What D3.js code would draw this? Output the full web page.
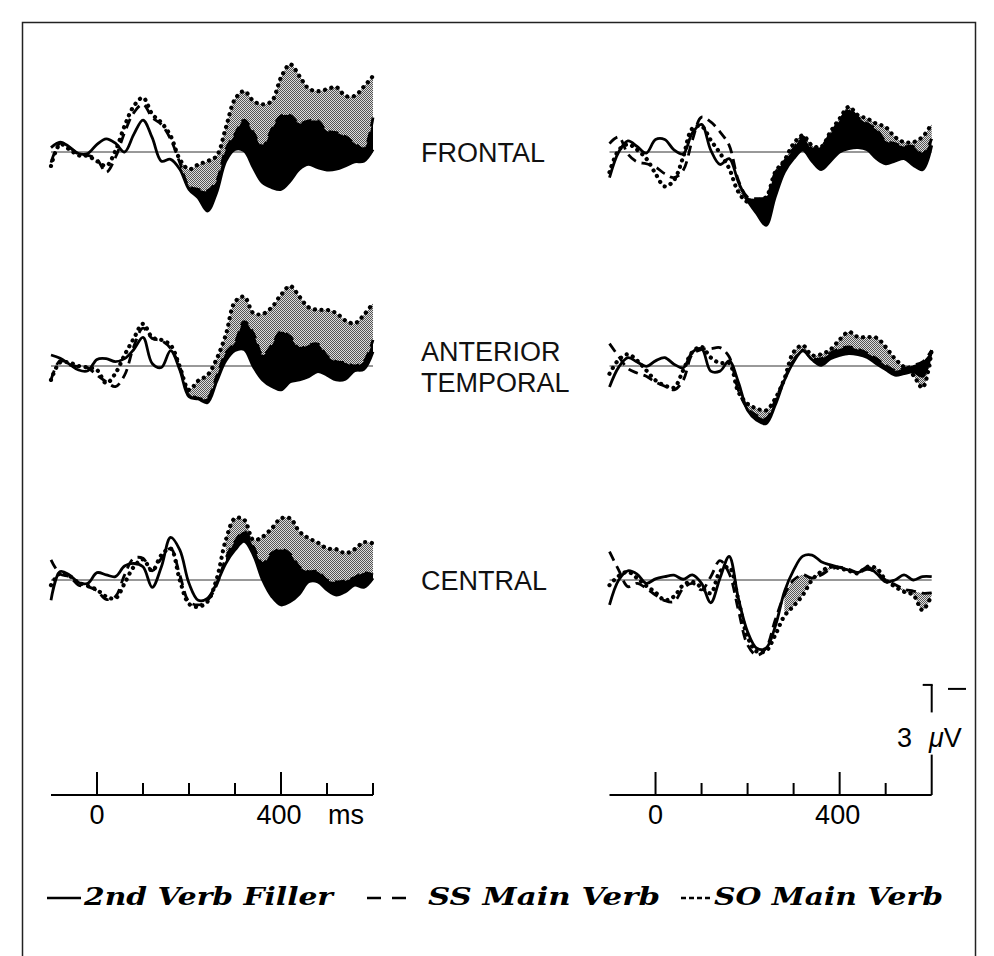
<!DOCTYPE html>
<html>
<head>
<meta charset="utf-8">
<script src="https://cdn.jsdelivr.net/npm/d3@7"></script>
<style>
  body { margin: 0; background: #fff; }
  svg { display: block; }
</style>
</head>
<body>
<svg id="chart" width="994" height="956"></svg>
<script>
// Epoch sampled every 20 ms, -100 .. 600 ms
const times = d3.range(-100, 601, 20);
const regionLabels = [["FRONTAL"], ["ANTERIOR", "TEMPORAL"], ["CENTRAL"]];
const legendLabels = ["2nd Verb Filler", "SS Main Verb", "SO Main Verb"];
const majorTicks = [0, 400];
const minorTicksLeft = [100, 200, 300, 500, 600];
const minorTicksRight = [100, 200, 300, 500];
const calibrationUV = 3;
// shading begins at this latency (ms) in each row
const shadeStart = [180, 180, 280];

// amplitudes in microvolts, negative plotted upward
// left column
const leftFrontalFiller = [-0.12,-0.27,-0.14,0.04,0.04,-0.21,-0.36,-0.24,0,-0.48,-0.87,-0.39,0.25,0.2,0.47,1.02,1.25,1.61,1.11,0.25,-0.07,-0.03,0.43,0.84,0.97,1.02,0.79,0.47,0.34,0.43,0.49,0.47,0.38,0.27,0.25,-0.07];
const leftFrontalSS = [0.29,-0.24,-0.12,0.06,0.09,0.2,0.55,0.15,-0.53,-1.07,-1.3,-0.94,-0.75,-0.35,0.29,0.93,1.02,1.06,0.79,-0.07,-0.48,-0.87,-0.53,-0.15,-0.62,-0.98,-1.0,-0.78,-0.85,-0.85,-0.57,-0.53,-0.42,-0.24,-0.09,-0.94];
const leftFrontalSO = [0.38,-0.21,-0.07,0.09,0.11,0.25,0.38,-0.03,-0.71,-1.25,-1.48,-1.03,-0.8,-0.44,0.2,0.47,0.34,0.25,0.11,-0.66,-1.44,-1.66,-1.39,-1.3,-1.39,-2.03,-2.39,-2.07,-1.73,-1.66,-1.71,-1.77,-1.53,-1.53,-1.78,-2.07];

const leftTemporalFiller = [-0.3,-0.21,-0.05,0.11,0.13,-0.18,-0.2,-0.12,-0.2,-0.45,-0.78,-0.07,0.04,-0.42,0.11,0.84,0.9,1.0,0.43,-0.14,-0.42,-0.45,0.02,0.38,0.56,0.65,0.43,0.38,0.29,0.15,0.25,0.38,0.36,0.13,0.09,-0.39];
const leftTemporalSS = [0.38,-0.15,-0.03,0.02,0.05,0.25,0.43,0.56,0.25,-0.53,-1.03,-0.75,-0.69,-0.48,0.02,0.75,0.88,0.88,0.29,-0.36,-0.64,-1.21,-0.89,-0.3,-0.57,-0.94,-0.8,-0.48,-0.57,-0.6,-0.27,-0.12,-0.09,0,-0.12,-0.71];
const leftTemporalSO = [0.38,-0.1,-0.09,0,0.04,0.11,0.47,0.2,-0.3,-0.75,-1.15,-0.78,-0.71,-0.57,0.02,0.65,0.4,0.25,-0.19,-0.85,-1.75,-1.89,-1.44,-1.42,-1.6,-1.94,-2.18,-1.89,-1.6,-1.53,-1.53,-1.44,-1.24,-1.16,-1.39,-1.71];

const leftCentralFiller = [0.55,-0.23,-0.14,0.07,0.09,-0.2,-0.14,-0.09,-0.38,-0.45,-0.36,0.2,-0.36,-1.16,-0.82,0.09,0.55,0.5,0.09,-0.45,-0.82,-1.05,-0.68,0,0.45,0.68,0.59,0.38,0.05,0.05,0.27,0.41,0.32,0.14,0.2,-0.05];
const leftCentralSS = [-0.55,-0.16,-0.09,0.14,0.18,0.29,0.53,0.45,-0.14,-0.59,-0.59,-0.25,-0.59,-0.86,-0.14,0.59,0.68,0.56,0.14,-0.59,-1.05,-1.32,-0.91,-0.45,-0.73,-0.84,-0.71,-0.36,-0.23,-0.23,0,0.05,0.02,-0.07,-0.2,-0.14];
const leftCentralSO = [0.14,-0.18,-0.11,0.07,0.16,0.27,0.45,0.5,0.09,-0.36,-0.56,-0.25,-0.68,-0.86,0,0.65,0.73,0.59,-0.02,-1.09,-1.68,-1.64,-1.09,-1.18,-1.41,-1.68,-1.68,-1.32,-1.14,-1.02,-0.86,-0.84,-0.73,-0.84,-1.03,-1.0];

// right column
const rightFrontalFiller = [0.7,0,-0.3,-0.15,0.03,-0.34,-0.34,-0.06,0.05,-0.52,-0.75,-0.05,0.34,0.18,0.82,1.32,1.68,2.0,1.23,0.55,0.18,-0.05,0.25,0.48,0.25,0,-0.09,-0.12,-0.06,0.18,0.32,0.25,0.18,0.36,0.48,-0.18];
const rightFrontalSS = [-0.23,-0.41,0.06,0.27,0.32,0.41,0.59,0.7,0.5,-0.32,-0.95,-0.82,-0.55,-0.18,0.77,1.23,1.27,1.23,0.57,0.25,-0.09,-0.41,-0.09,-0.15,-0.5,-0.86,-1.15,-0.94,-0.77,-0.61,-0.3,-0.23,-0.15,-0.15,0.06,-0.36];
const rightFrontalSO = [0.55,-0.05,-0.21,-0.06,0.18,0.59,0.94,0.77,0.14,-0.64,-0.7,-0.32,0.03,0.45,1.09,1.36,1.32,1.23,0.55,0.23,-0.23,-0.45,-0.18,-0.14,-0.55,-0.91,-1.23,-1.0,-0.91,-0.77,-0.68,-0.41,-0.27,-0.27,-0.41,-0.77];

const rightTemporalFiller = [0.57,0.03,-0.23,-0.11,0.01,-0.14,-0.23,-0.05,0.05,-0.38,-0.47,0.14,0.14,-0.14,0.44,1.21,1.48,1.57,1.07,0.39,-0.11,-0.41,-0.17,-0.02,-0.2,-0.29,-0.34,-0.31,-0.23,-0.06,0.1,0.25,0.21,0.16,0.28,-0.43];
const rightTemporalSS = [-0.61,-0.26,0.07,0.19,0.28,0.44,0.55,0.65,0.39,-0.32,-0.45,-0.47,-0.5,-0.25,0.66,1.16,1.35,1.44,0.94,0.35,-0.15,-0.43,-0.2,-0.2,-0.35,-0.47,-0.52,-0.45,-0.35,-0.2,-0.02,0.12,0.07,-0.02,-0.11,-0.43];
const rightTemporalSO = [0.21,-0.17,-0.32,-0.15,0.12,0.39,0.53,0.59,0.12,-0.38,-0.52,-0.23,-0.08,-0.08,0.71,1.03,1.16,1.21,0.89,0.35,-0.38,-0.56,-0.29,-0.32,-0.45,-0.72,-0.93,-0.79,-0.79,-0.77,-0.52,-0.2,0.03,0.25,0.59,-0.43];

const rightCentralFiller = [0.68,0,-0.25,-0.16,0.09,-0.03,-0.09,-0.13,-0.02,-0.14,0.09,0.62,-0.05,-0.64,0.5,1.41,1.86,1.86,1.27,0.32,-0.27,-0.65,-0.68,-0.5,-0.41,-0.34,-0.27,-0.2,-0.35,-0.18,0.05,0,-0.14,0,-0.09,-0.09];
const rightCentralSS = [-0.77,-0.27,0.18,0.09,0.23,0.41,0.56,0.59,0.23,0.09,0.27,-0.09,-0.53,-0.18,0.82,1.77,2.05,1.86,1.09,0.41,0,-0.14,-0.05,-0.14,-0.29,-0.35,-0.29,-0.2,-0.29,-0.2,0,0.12,0.25,0.3,0.36,0.35];
const rightCentralSO = [0.14,-0.11,-0.22,-0.05,0.16,0.34,0.55,0.45,0.14,0.05,0.2,0.36,-0.23,-0.35,0.55,1.55,1.95,1.93,1.5,0.98,0.71,0.41,0,-0.23,-0.36,-0.32,-0.25,-0.18,-0.36,-0.32,0,0.18,0.32,0.41,0.82,0.41];

// ---- layout ----
const pxPerUV = 36.7;
const rowBaselines = [152, 366, 580];
const axisY = 795;
const xLeft = d3.scaleLinear().domain([-100, 600]).range([51, 373]);
const xRight = d3.scaleLinear().domain([-100, 600]).range([609.5, 931.7]);

const panels = [
  { x: xLeft,  row: 0, filler: leftFrontalFiller,   ss: leftFrontalSS,   so: leftFrontalSO },
  { x: xLeft,  row: 1, filler: leftTemporalFiller,  ss: leftTemporalSS,  so: leftTemporalSO },
  { x: xLeft,  row: 2, filler: leftCentralFiller,   ss: leftCentralSS,   so: leftCentralSO },
  { x: xRight, row: 0, filler: rightFrontalFiller,  ss: rightFrontalSS,  so: rightFrontalSO },
  { x: xRight, row: 1, filler: rightTemporalFiller, ss: rightTemporalSS, so: rightTemporalSO },
  { x: xRight, row: 2, filler: rightCentralFiller,  ss: rightCentralSS,  so: rightCentralSO }
];

const svg = d3.select("#chart");
const defs = svg.append("defs");

// halftone stipple used for the grey difference area
const pat = defs.append("pattern")
  .attr("id", "stipple").attr("width", 2).attr("height", 2)
  .attr("patternUnits", "userSpaceOnUse");
pat.append("rect").attr("width", 2).attr("height", 2).attr("fill", "#dedede");
pat.append("rect").attr("x", 0).attr("y", 0).attr("width", 1).attr("height", 1).attr("fill", "#555");
pat.append("rect").attr("x", 1).attr("y", 1).attr("width", 1).attr("height", 1).attr("fill", "#555");

// frame
svg.append("rect")
  .attr("x", 22.5).attr("y", 22.5).attr("width", 953).attr("height", 960)
  .attr("fill", "none").attr("stroke", "#222").attr("stroke-width", 1.5);

const curve = d3.curveCatmullRom.alpha(0.5);

panels.forEach((p, pi) => {
  const base = rowBaselines[p.row];
  const y = d3.scaleLinear().domain([0, 1]).range([base, base + pxPerUV]);
  const x = p.x;
  const pts = times.map((t, i) => ({ t, f: p.filler[i], s: p.ss[i], o: p.so[i] }));
  const shaded = pts.filter(d => d.t >= shadeStart[p.row]);
  const g = svg.append("g");

  // zero line
  g.append("line")
    .attr("x1", x(-100)).attr("x2", x(600))
    .attr("y1", y(0)).attr("y2", y(0))
    .attr("stroke", "#333").attr("stroke-width", 1);

  // grey: between SS and SO
  g.append("path")
    .datum(shaded)
    .attr("d", d3.area().x(d => x(d.t)).y0(d => y(d.s)).y1(d => y(d.o)).curve(curve))
    .attr("fill", "url(#stipple)");

  // black: between filler and SS where SS is more negative than filler
  const clipId = "above-filler-" + pi;
  defs.append("clipPath").attr("id", clipId)
    .append("path")
    .datum(shaded)
    .attr("d", d3.area().x(d => x(d.t)).y0(base - 200).y1(d => y(d.f)).curve(curve));
  g.append("path")
    .datum(shaded)
    .attr("d", d3.area().x(d => x(d.t)).y0(d => y(d.f)).y1(d => y(d.s)).curve(curve))
    .attr("fill", "#000")
    .attr("clip-path", `url(#${clipId})`);

  const line = key => d3.line().x(d => x(d.t)).y(d => y(d[key])).curve(curve);

  g.append("path").datum(pts).attr("d", line("f"))
    .attr("fill", "none").attr("stroke", "#000").attr("stroke-width", 2.8)
    .attr("stroke-linejoin", "round");
  g.append("path").datum(pts).attr("d", line("s"))
    .attr("fill", "none").attr("stroke", "#000").attr("stroke-width", 2.8)
    .attr("stroke-dasharray", "10 6");
  g.append("path").datum(pts).attr("d", line("o"))
    .attr("fill", "none").attr("stroke", "#000").attr("stroke-width", 4.2)
    .attr("stroke-linecap", "round").attr("stroke-dasharray", "0.1 6.5");
});

// region labels
const labelFont = "'Liberation Sans', Arial, sans-serif";
regionLabels.forEach((lines, r) => {
  const base = rowBaselines[r];
  const lh = 31;
  lines.forEach((txt, k) => {
    svg.append("text")
      .attr("x", 421)
      .attr("y", base + 10 + (k - (lines.length - 1) / 2) * lh)
      .attr("font-family", labelFont).attr("font-size", 27)
      .attr("fill", "#111")
      .text(txt);
  });
});

// time axes
function drawAxis(x, minor, showMs) {
  const g = svg.append("g");
  g.append("line").attr("x1", x(-100)).attr("x2", x(600))
    .attr("y1", axisY).attr("y2", axisY)
    .attr("stroke", "#000").attr("stroke-width", 2);
  g.selectAll(".minor").data(minor).enter().append("line")
    .attr("x1", d => x(d)).attr("x2", d => x(d))
    .attr("y1", axisY).attr("y2", axisY - 12)
    .attr("stroke", "#000").attr("stroke-width", 2);
  g.selectAll(".major").data(majorTicks).enter().append("line")
    .attr("x1", d => x(d)).attr("x2", d => x(d))
    .attr("y1", axisY).attr("y2", axisY - 23)
    .attr("stroke", "#000").attr("stroke-width", 2);
  g.selectAll(".lab").data(majorTicks).enter().append("text")
    .attr("x", d => x(d) - (d === 400 ? 2 : 0)).attr("y", 824)
    .attr("text-anchor", "middle")
    .attr("font-family", labelFont).attr("font-size", 27)
    .text(d => d);
  if (showMs) {
    g.append("text").attr("x", 346).attr("y", 824)
      .attr("text-anchor", "middle")
      .attr("font-family", labelFont).attr("font-size", 27)
      .text("ms");
  }
}
drawAxis(xLeft, minorTicksLeft, true);
drawAxis(xRight, minorTicksRight, false);

// voltage calibration bar at the end of the right axis
const yCal = d3.scaleLinear().domain([0, calibrationUV]).range([axisY, axisY - calibrationUV * pxPerUV]);
const cx = xRight(600);
svg.append("line").attr("x1", cx).attr("x2", cx).attr("y1", yCal(0)).attr("y2", yCal(1.1))
  .attr("stroke", "#000").attr("stroke-width", 2);
svg.append("line").attr("x1", cx).attr("x2", cx).attr("y1", yCal(2.25)).attr("y2", yCal(3))
  .attr("stroke", "#000").attr("stroke-width", 2);
svg.append("line").attr("x1", cx - 9).attr("x2", cx + 1).attr("y1", yCal(3)).attr("y2", yCal(3))
  .attr("stroke", "#000").attr("stroke-width", 2);
svg.append("line").attr("x1", 948).attr("x2", 966).attr("y1", yCal(3) + 4).attr("y2", yCal(3) + 4)
  .attr("stroke", "#000").attr("stroke-width", 2);
const calText = svg.append("text").attr("x", 897).attr("y", 747)
  .attr("font-family", labelFont).attr("font-size", 27);
calText.append("tspan").text("3");
calText.append("tspan").attr("x", 929).attr("font-style", "italic").text("\u03bc");
calText.append("tspan").text("V");

// legend
const legendFont = "'DejaVu Serif', serif";
const legendY = 905;
const legendItems = [
  { label: legendLabels[0], x0: 47, x1: 81, tx: 84, tw: 249, dash: null, w: 2.6 },
  { label: legendLabels[1], x0: 367, x1: 409, tx: 428, tw: 232, dash: "14 11", w: 2.6 },
  { label: legendLabels[2], x0: 681, x1: 712, tx: 714, tw: 229, dash: "5 3", w: 2.4 }
];
legendItems.forEach(it => {
  svg.append("line").attr("x1", it.x0).attr("x2", it.x1)
    .attr("y1", legendY - 7).attr("y2", legendY - 7)
    .attr("stroke", "#000").attr("stroke-width", it.w)
    .attr("stroke-dasharray", it.dash);
  svg.append("text").attr("x", it.tx).attr("y", legendY)
    .attr("font-family", legendFont).attr("font-weight", "bold").attr("font-style", "italic")
    .attr("font-size", 24)
    .attr("textLength", it.tw).attr("lengthAdjust", "spacingAndGlyphs")
    .text(it.label);
});
</script>
</body>
</html>
